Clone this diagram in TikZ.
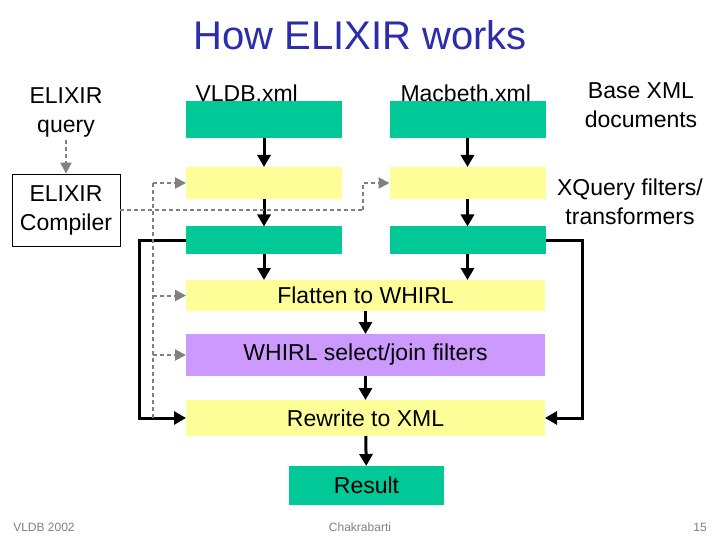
\documentclass[tikz,border=0pt]{standalone}
\usepackage{fontspec}
\setmainfont{Liberation Sans}
\usetikzlibrary{arrows.meta}
\definecolor{docgreen}{RGB}{0,200,150}
\definecolor{filtyellow}{RGB}{255,255,153}
\definecolor{whirlpurple}{RGB}{204,153,255}
\definecolor{titleblue}{RGB}{45,45,170}
\tikzset{
	doc/.style={fill=docgreen,inner sep=0,outer sep=0,minimum width=156,minimum height=#1},
	filt/.style={fill=filtyellow,inner sep=0,outer sep=0,minimum width=156,minimum height=32},
	wide/.style={fill=#1,inner sep=0,outer sep=0,minimum width=359,font=\fontsize{23}{26}\selectfont},
	lbl/.style={align=center,font=\fontsize{23}{29}\selectfont},
	flow/.style={line width=3pt,-{Triangle[length=12pt,width=13pt]}},
	ctl/.style={gray,dashed,dash pattern=on 4pt off 3pt,line width=2pt},
	ctlarr/.style={ctl,-{Triangle[length=11pt,width=11pt]}}
}
\begin{document}
\begin{tikzpicture}[x=1pt,y=-1pt]
	\useasboundingbox (0,0) rectangle (720,540);
	\node[font=\fontsize{40}{44}\selectfont,text=titleblue] (title) at (360,35) {How ELIXIR works};
	\node[doc=37] (vldb) at (264,119.5) {};
	\node[doc=37] (macb) at (467.5,119.5) {};
	\node[lbl,anchor=west] (vldbname) at (192,93) {VLDB.xml};
	\node[lbl,anchor=west] (macbname) at (397,93) {Macbeth.xml};
	\node[lbl] (base) at (641,105.5) {Base XML\\documents};
	\node[lbl] (query) at (66,112) {ELIXIR\\query};
	\node[lbl,draw,line width=0.8pt,minimum width=108,minimum height=72,inner sep=0] (comp) at (66,210) {ELIXIR\\Compiler};
	\node[filt] (xq1) at (264,183) {};
	\node[filt] (xq2) at (467.5,183) {};
	\node[lbl] (xqlbl) at (630,201.5) {XQuery filters/\\transformers};
	\node[doc=27] (out1) at (264,240) {};
	\node[doc=27] (out2) at (467.5,240) {};
	\node[wide=filtyellow,minimum height=31] (flat) at (365.5,295.5) {Flatten to WHIRL};
	\node[wide=whirlpurple,minimum height=42] (whirl) at (365.5,355) {WHIRL select/join filters};
	\node[wide=filtyellow,minimum height=36] (rewr) at (365.5,418) {Rewrite to XML};
	\node[doc=39,minimum width=155,font=\fontsize{23}{26}\selectfont] (res) at (366.5,485.5) {Result};
	\node[gray,font=\fontsize{12}{14}\selectfont] (foot1) at (44,527) {VLDB 2002};
	\node[gray,font=\fontsize{12}{14}\selectfont] (foot2) at (360,527) {Chakrabarti};
	\node[gray,font=\fontsize{12}{14}\selectfont] (foot3) at (700,527) {15};
	\coordinate (lx) at (139,0);
	\coordinate (rx) at (582,0);
	\coordinate (cx) at (153,0);
	\coordinate (kx) at (363,0);
	\draw[flow] (vldb) -- (xq1);
	\draw[flow] (xq1) -- (out1);
	\draw[flow] (out1) -- (out1 |- flat.north);
	\draw[flow] (macb) -- (xq2);
	\draw[flow] (xq2) -- (out2);
	\draw[flow] (out2) -- (out2 |- flat.north);
	\draw[flow] (flat) -- (whirl);
	\draw[flow] (whirl) -- (rewr);
	\draw[flow] (rewr) -- (res);
	\draw[flow] (out1.west) -| (lx |- rewr) -- (rewr.west);
	\draw[flow] (out2.east) -| (rx |- rewr) -- (rewr.east);
	\draw[ctlarr] (query) -- (comp);
	\draw[ctl] (comp.east) -- (kx |- comp.east);
	\draw[ctlarr] (kx |- comp.east) |- (xq2.west);
	\draw[ctl] (cx |- xq1) -- (cx |- rewr);
	\draw[ctlarr] (cx |- xq1) -- (xq1.west);
	\draw[ctlarr] (cx |- flat) -- (flat.west);
	\draw[ctlarr] (cx |- whirl) -- (whirl.west);
\end{tikzpicture}
\end{document}
